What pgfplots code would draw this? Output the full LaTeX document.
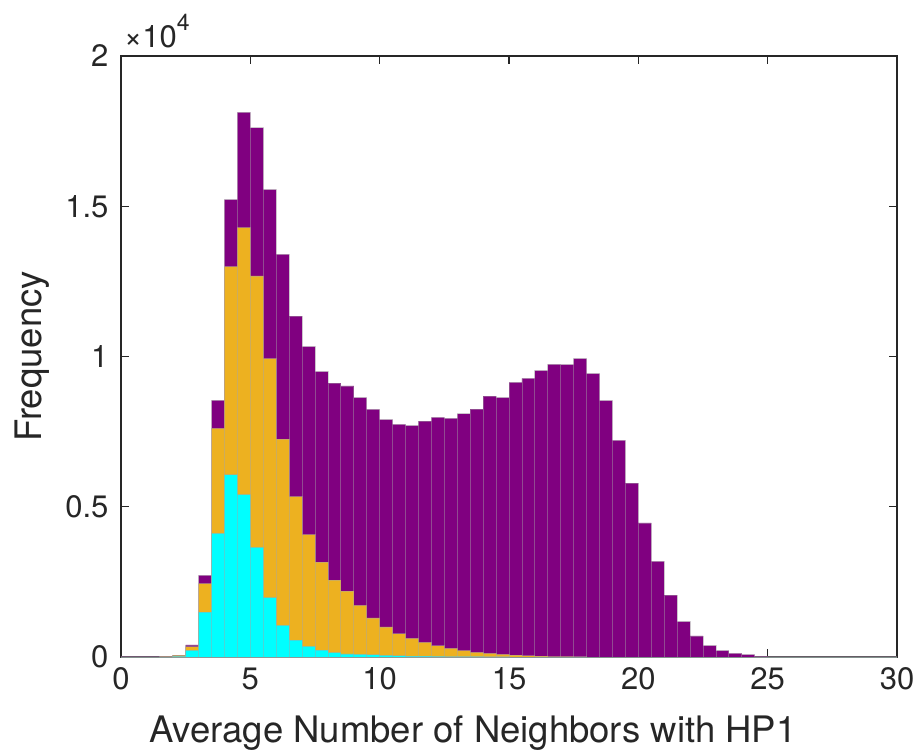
\documentclass[border=0pt]{standalone}
\usepackage{fontspec}
\setmainfont{TeX Gyre Heros}
\usepackage{pgfplots}
\usepackage{pgfplotstable}
\pgfplotsset{compat=1.18}

\definecolor{mpurple}{RGB}{128,0,128}
\definecolor{morange}{RGB}{237,177,32}
\definecolor{mcyan}{RGB}{0,255,255}
\definecolor{axgray}{RGB}{38,38,38}

% Histogram counts per bin (left bin edge, bin width 0.5)
\pgfplotstableread{
edge  all    mid    low
0.0   15     0      0
0.5   15     0      0
1.0   15     0      0
1.5   20     10     0
2.0   60     50     20
2.5   400    340    220
3.0   2720   2440   1490
3.5   8540   7610   4110
4.0   15220  12990  6060
4.5   18120  14290  5400
5.0   17610  12680  3650
5.5   15550  9930   1980
6.0   13400  7250   1050
6.5   11340  5340   560
7.0   10330  4070   350
7.5   9500   3160   230
8.0   9110   2560   145
8.5   9020   2190   100
9.0   8630   1720   90
9.5   8240   1300   70
10.0  7900   1000   50
10.5  7740   770    40
11.0  7700   620    30
11.5  7850   490    25
12.0  7970   370    20
12.5  7940   290    15
13.0  8090   210    10
13.5  8250   150    10
14.0  8680   120    5
14.5  8630   90     5
15.0  9140   60     0
15.5  9270   40     0
16.0  9530   25     0
16.5  9740   15     0
17.0  9730   10     0
17.5  9930   5      0
18.0  9430   0      0
18.5  8530   0      0
19.0  7210   0      0
19.5  5790   0      0
20.0  4460   0      0
20.5  3180   0      0
21.0  2060   0      0
21.5  1180   0      0
22.0  700    0      0
22.5  380    0      0
23.0  210    0      0
23.5  120    0      0
24.0  80     0      0
24.5  20     0      0
25.0  5      0      0
25.5  5      0      0
26.0  5      0      0
26.5  5      0      0
27.0  5      0      0
27.5  5      0      0
28.0  5      0      0
28.5  5      0      0
29.0  5      0      0
29.5  5      0      0
30.0  0      0      0
}\histdata

\begin{document}
\begin{tikzpicture}
\begin{axis}[
  name=hax,
  scale only axis,
  width=776pt, height=601pt,
  xmin=0, xmax=30, ymin=0, ymax=20000,
  xtick={0,5,10,15,20,25,30},
  xticklabels={0,5,10,15,20,25,30},
  ytick={0,5000,10000,15000,20000},
  yticklabels={0,0.5,1,1.5,2},
  scaled y ticks=false,
  tick align=inside,
  major tick length=8pt,
  axis line style={axgray, line width=1.2pt},
  every tick/.style={axgray, line width=1.2pt},
  tick label style={font=\fontsize{31}{31}\selectfont, text=axgray},
  xticklabel style={yshift=-7pt},
  yticklabel style={xshift=-9pt},
  xlabel={Average Number of Neighbors with HP1},
  ylabel={Frequency},
  every axis x label/.style={at={(axis description cs:0.4536,0)}, anchor=base,
    yshift=-85pt, font=\fontsize{36.5}{36.5}\selectfont, text=axgray},
  every axis y label/.style={at={(axis description cs:0,0.5)}, xshift=-79pt, rotate=90,
    anchor=base, font=\fontsize{36.5}{36.5}\selectfont, text=axgray},
  hist/.style={ybar interval, line width=0.8pt, draw opacity=0.45},
]
\addplot[hist, fill=mpurple, draw=gray!70] table[x=edge, y=all] {\histdata};
\addplot[hist, fill=morange, draw=gray!70] table[x=edge, y=mid] {\histdata};
\addplot[hist, fill=mcyan, draw=gray!70] table[x=edge, y=low] {\histdata};
\end{axis}
\node[anchor=base west, inner sep=0pt, text=axgray, font=\fontsize{31}{31}\selectfont]
  at ([xshift=3pt, yshift=8pt]hax.north west) {×10\raisebox{0.55em}{\fontsize{23}{23}\selectfont 4}};
\pgfresetboundingbox
\path (-121pt,-97pt) rectangle (796pt,657pt);
\end{tikzpicture}
\end{document}
